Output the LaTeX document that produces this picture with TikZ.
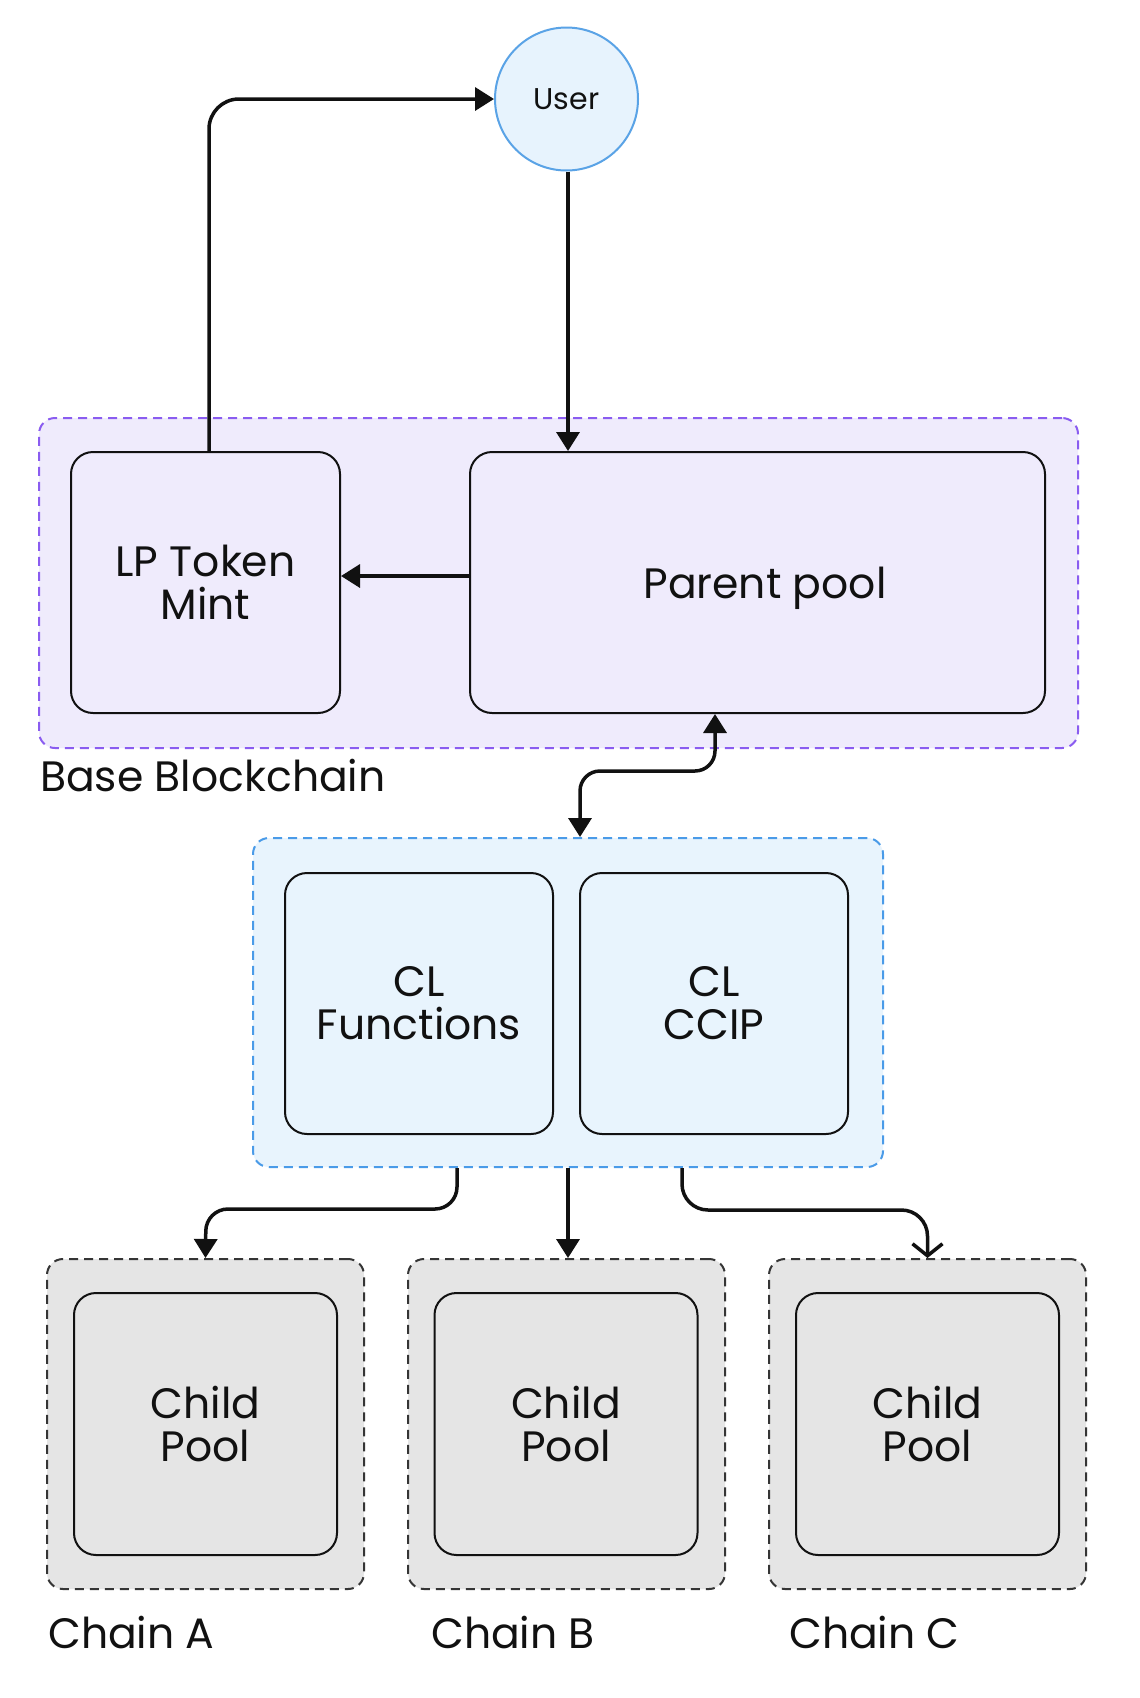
\documentclass[tikz,border=0pt]{standalone}
\usepackage{fontspec}
\setmainfont{Poppins}
\usetikzlibrary{arrows.meta}
\definecolor{basefill}{HTML}{EFEBFC}
\definecolor{basedraw}{HTML}{8A5CF0}
\definecolor{clfill}{HTML}{E8F4FD}
\definecolor{cldraw}{HTML}{4A9BE8}
\definecolor{grayfill}{HTML}{E5E5E5}
\definecolor{ink}{HTML}{111111}
\definecolor{userfill}{HTML}{E7F3FD}
\definecolor{userdraw}{HTML}{5AA3E6}
\tikzset{
  group/.style={rounded corners=16pt, line width=2pt, dash pattern=on 9pt off 6pt, inner sep=0pt},
  basegrp/.style={group, draw=basedraw, fill=basefill},
  clgrp/.style={group, draw=cldraw, fill=clfill},
  chaingrp/.style={group, draw=ink!85, fill=grayfill, minimum width=317pt, minimum height=330pt},
  box/.style={draw=ink, line width=2pt, rounded corners=22pt, align=center, inner sep=0pt,
    font=\fontsize{42.5}{43}\selectfont, text=ink},
  childbox/.style={box, fill=grayfill, minimum width=263pt, minimum height=262pt},
  clbox/.style={box, fill=clfill, minimum width=268pt, minimum height=261pt},
  lbl/.style={anchor=base west, inner sep=0pt, font=\fontsize{42.5}{43}\selectfont, text=ink},
  arr/.style={line width=3.5pt, draw=ink, -{Triangle[length=19pt,width=23pt]}},
  dbl/.style={line width=3.5pt, draw=ink, {Triangle[length=19pt,width=23pt]}-{Triangle[length=19pt,width=23pt]}, rounded corners=20pt},
  openarr/.style={line width=3.5pt, draw=ink, -{Straight Barb[length=12pt,width=30pt,line width=3.5pt]}, rounded corners=26pt}
}
\begin{document}
\begin{tikzpicture}[x=1pt,y=-1pt]
\useasboundingbox[fill=white] (0,0) rectangle (1140,1698);

% groups
\node[basegrp, minimum width=1039pt, minimum height=330pt] (basegroup) at (558.5,583) {};
\node[clgrp, minimum width=630pt, minimum height=329pt] (clgroup) at (568,1002.5) {};
\node[chaingrp] (chainA) at (205.5,1424) {};
\node[chaingrp] (chainB) at (566.5,1424) {};
\node[chaingrp] (chainC) at (927.5,1424) {};

% user
\node[circle, draw=userdraw, fill=userfill, line width=2pt, minimum size=143pt, inner sep=0pt,
  font=\fontsize{30}{31}\selectfont, text=ink] (user) at (566.5,99) {\raisebox{-2pt}{User}};

% base boxes
\node[box, fill=basefill, minimum width=269pt, minimum height=261pt] (lp) at (205.5,582.5) {LP Token\\Mint};
\node[box, fill=basefill, minimum width=575pt, minimum height=261pt, text depth=0pt] (parent) at (757.5,582.5) {\hspace*{15pt}Parent pool};

% CL boxes
\node[clbox] (clf) at (419,1003.5) {CL\\Functions};
\node[clbox] (ccip) at (714,1003.5) {CL\\CCIP};

% child pools
\node[childbox] (poolA) at (205.5,1424) {Child\\Pool};
\node[childbox] (poolB) at (566,1424) {Child\\Pool};
\node[childbox] (poolC) at (927.5,1424) {Child\\Pool};

% labels
\node[lbl] (baselbl) at (40,791) {Base Blockchain};
\node[lbl] (lblA) at (48,1648) {Chain A};
\node[lbl] (lblB) at (431,1648) {Chain B};
\node[lbl] (lblC) at (789,1648) {Chain C};

% connectors
\draw[arr, rounded corners=30pt] ([xshift=3.5pt]lp.north) |- (user.west);
\draw[arr] ([xshift=1.5pt]user.south) -- ([xshift=1.5pt]user.south |- parent.north);
\draw[arr] ([yshift=6.5pt]parent.west) -- ([yshift=6.5pt]lp.east);

\coordinate (b1) at (715,771);
\coordinate (b2) at (580,771);
\draw[dbl] ([xshift=-42.5pt]parent.south) -- (b1) -- (b2) -- ([xshift=12pt]clgroup.north);

\coordinate (a1) at (457,1209);
\coordinate (a2) at (206,1209);
\draw[arr, rounded corners=22pt] ([xshift=-111pt]clgroup.south) -- (a1) -- (a2) -- (chainA.north);

\draw[arr] (clgroup.south) -- (clgroup.south |- chainB.north);

\coordinate (c1) at (682,1210);
\coordinate (c2) at (927.5,1210);
\draw[openarr] ([xshift=114pt]clgroup.south) -- (c1) -- (c2) -- (chainC.north);
\end{tikzpicture}
\end{document}
